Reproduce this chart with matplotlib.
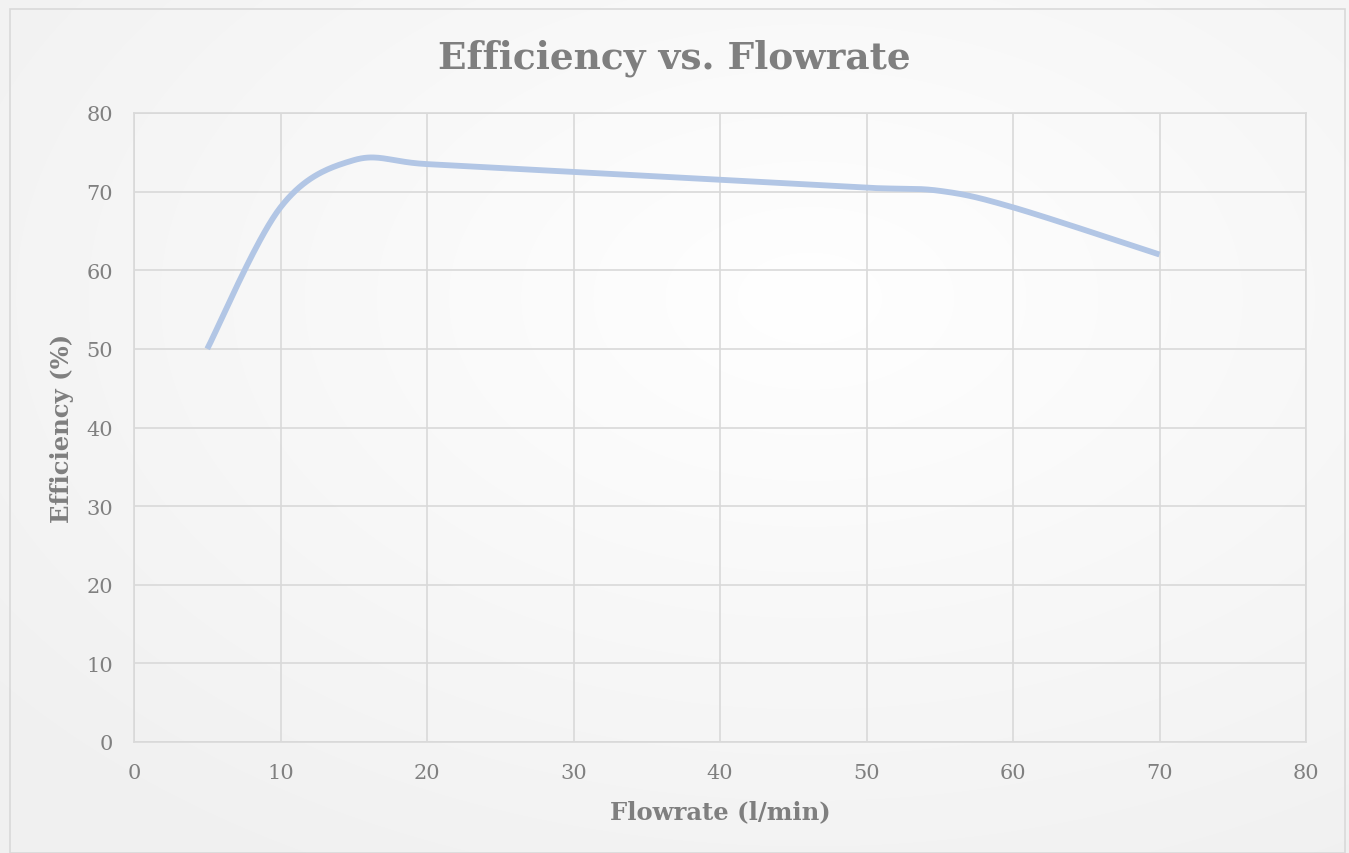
import numpy as np
import matplotlib
matplotlib.use("Agg")
import matplotlib.pyplot as plt
from matplotlib.patches import Rectangle

# Data
flowrate = [5, 10, 15, 20, 30, 40, 50, 55, 60, 70]
efficiency = [50, 68, 74, 73.5, 72.5, 71.5, 70.5, 70.1, 68, 62]
x_ticks = [0, 10, 20, 30, 40, 50, 60, 70, 80]
y_ticks = [0, 10, 20, 30, 40, 50, 60, 70, 80]
title = "Efficiency vs. Flowrate"
xlabel = "Flowrate (l/min)"
ylabel = "Efficiency (%)"


def excel_smooth(x, y, n=40):
    pts = np.column_stack([x, y]).astype(float)
    out = [pts[0]]
    for i in range(len(pts) - 1):
        p0 = pts[i - 1] if i > 0 else pts[i]
        p1 = pts[i]
        p2 = pts[i + 1]
        p3 = pts[i + 2] if i + 2 < len(pts) else pts[i + 1]
        c1 = p1 + (p2 - p0) / 6.0
        c2 = p2 - (p3 - p1) / 6.0
        t = np.linspace(0, 1, n)[1:, None]
        b = ((1 - t) ** 3) * p1 + 3 * ((1 - t) ** 2) * t * c1 + 3 * (1 - t) * t ** 2 * c2 + t ** 3 * p2
        out.extend(b)
    out = np.array(out)
    return out[:, 0], out[:, 1]


plt.rcParams['font.family'] = ['DejaVu Serif']

W, H = 1349, 854
fig = plt.figure(figsize=(W / 100, H / 100), dpi=100)
fig.patch.set_facecolor('white')

# background radial gradient
bg = fig.add_axes([0, 0, 1, 1], zorder=-10)
yy, xx = np.mgrid[0:H, 0:W]
r = np.sqrt(((xx - W * 0.6) / W) ** 2 + ((yy - H * 0.35) / H) ** 2)
g = 1.0 - 0.055 * np.clip(r / 0.75, 0, 1)
bg.imshow(np.dstack([g, g, g]), aspect='auto', extent=[0, 1, 0, 1])
bg.add_patch(Rectangle((10 / W, 0), (W - 14) / W, (H - 10) / H, fill=False,
                       edgecolor='#D9D9D9', linewidth=1.2, transform=bg.transAxes))
bg.set_axis_off()

ax = fig.add_axes([134 / W, 1 - 743 / H, (1306 - 134) / W, (743 - 114) / H])
ax.set_facecolor('none')

sx, sy = excel_smooth(flowrate, efficiency)
ax.plot(sx, sy, color='#B2C6E5', linewidth=4.2, solid_capstyle='butt', zorder=3)

ax.set_xlim(0, 80)
ax.set_ylim(0, 80)
ax.set_xticks(x_ticks)
ax.set_yticks(y_ticks)
ax.grid(True, color='#D9D9D9', linewidth=1.2)
ax.set_axisbelow(True)
for s in ax.spines.values():
    s.set_color('#D9D9D9')
    s.set_linewidth(1.2)
ax.tick_params(length=0, labelsize=15)
ax.tick_params(axis='x', pad=15)
ax.tick_params(axis='y', pad=15)
for lab in ax.get_xticklabels() + ax.get_yticklabels():
    lab.set_color('#808080')

ax.set_xlabel(xlabel, fontsize=17.5, fontweight='bold', color='#7F7F7F')
ax.set_ylabel(ylabel, fontsize=17.5, fontweight='bold', color='#7F7F7F')
ax.xaxis.set_label_coords(0.5, (743 - 812) / 629)
ax.xaxis.label.set_va('center')
ax.yaxis.set_label_coords((62 - 134) / 1172, 0.5)
ax.yaxis.label.set_va('center')
fig.text(0.5, 1 - 58 / H, title, ha='center', va='center', fontsize=27,
         fontweight='bold', color='#7F7F7F')

fig.savefig('out.png', dpi=100)
